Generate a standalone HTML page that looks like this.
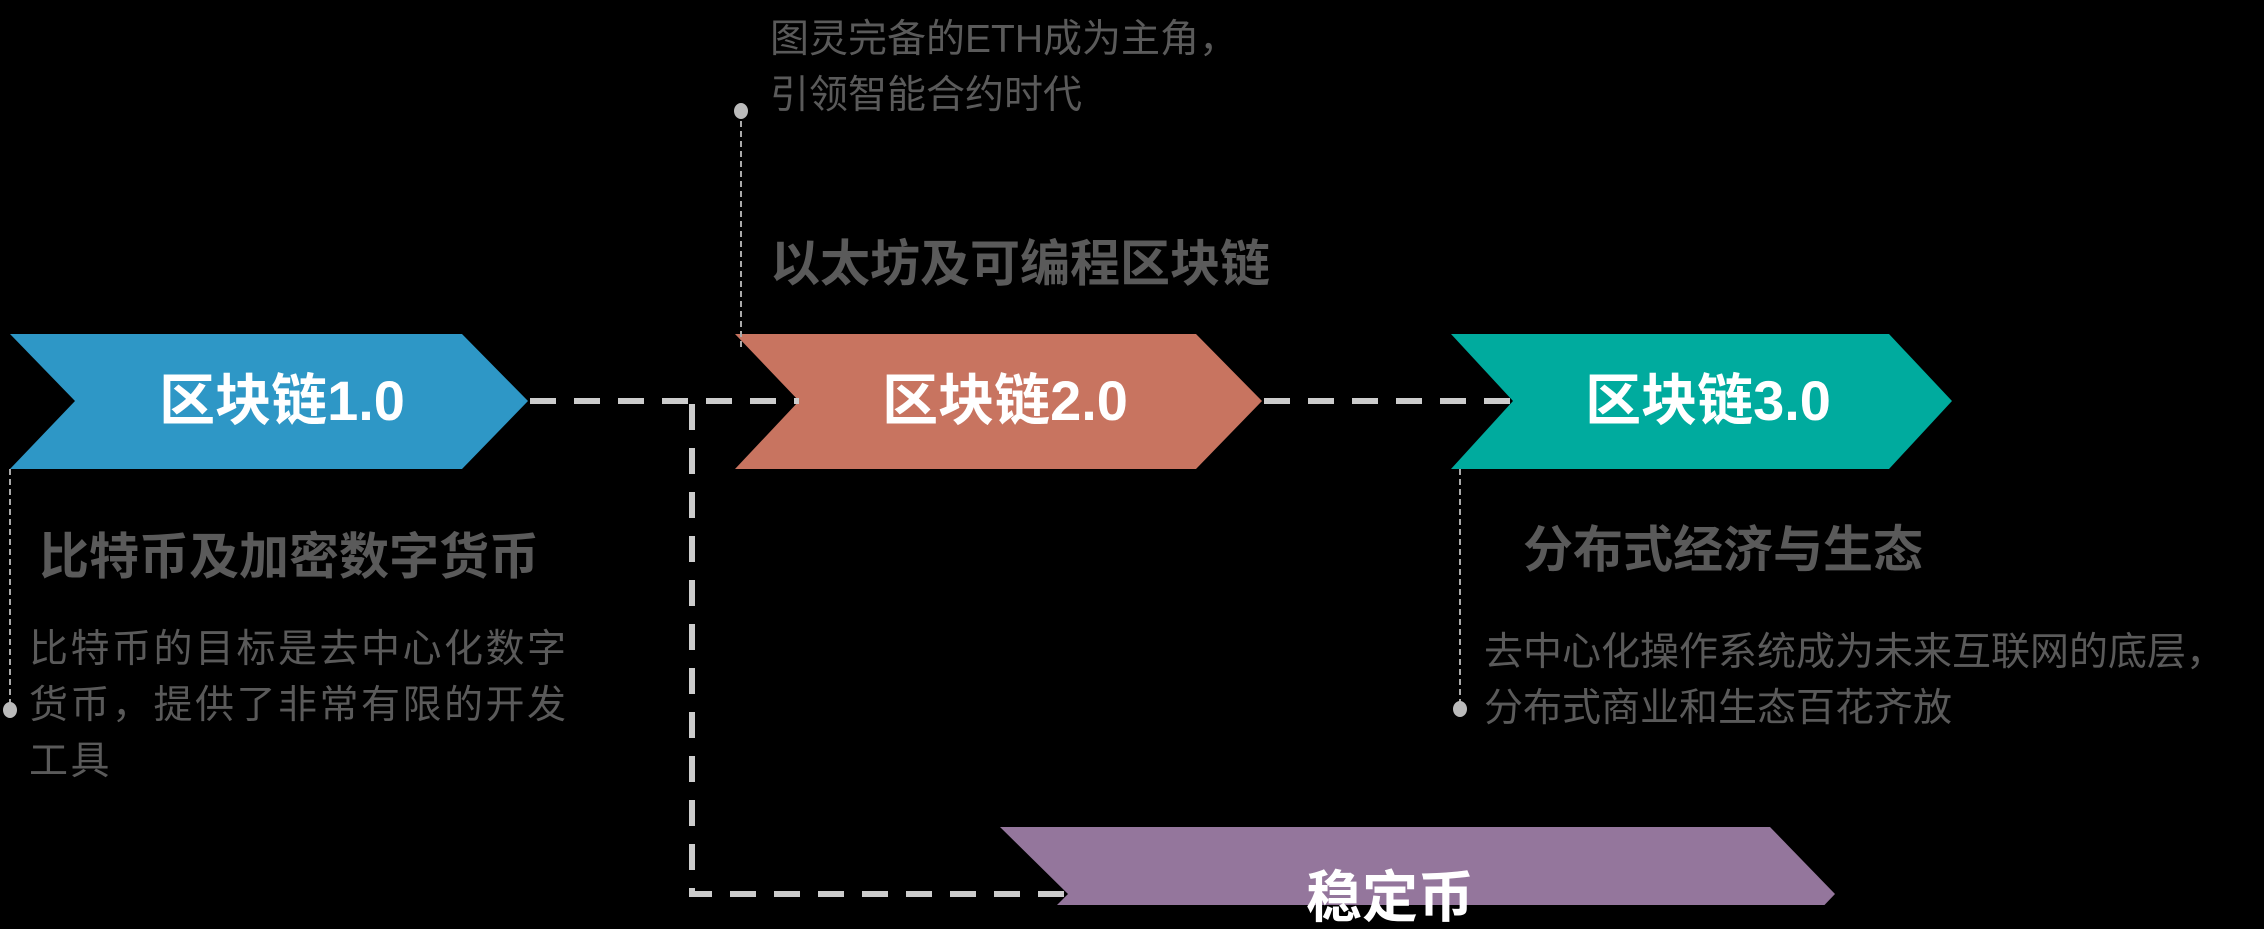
<!DOCTYPE html>
<html><head><meta charset="utf-8"><style>
html,body{margin:0;padding:0;background:#000;}
body{width:2264px;height:905px;position:relative;overflow:hidden;font-family:"Liberation Sans","Noto Sans CJK SC",sans-serif;}
.t{position:absolute;white-space:nowrap;color:#5a5a5a;}
.h{font-weight:bold;font-size:50px;line-height:60px;}
.b{font-size:39px;line-height:56px;}
.w{position:absolute;color:#fff;font-weight:bold;font-size:56px;line-height:60px;text-align:center;width:400px;}
</style></head><body>
<svg width="2264" height="905" style="position:absolute;left:0;top:0">
<polygon points="10,334 462,334 528,401 462,469 10,469 75,401" fill="#2e97c6"/>
<polygon points="735,334 1196,334 1262,401 1196,469 735,469 799,401" fill="#c87460"/>
<polygon points="1451,334 1889,334 1952,401 1889,469 1451,469 1513,401" fill="#00ab9e"/>
<polygon points="1000,827 1770,827 1835,894 1770,962 1000,962 1068,894" fill="#94769c"/>
<g stroke="#cccccc" stroke-width="6" fill="none" stroke-dasharray="26,18">
<line x1="530" y1="401" x2="799" y2="401"/>
<line x1="1264" y1="401" x2="1513" y2="401"/>
<polyline points="692,404 692,894 1068,894"/>
</g>
<g stroke="#aaaaaa" stroke-width="2" fill="none" stroke-dasharray="6,4">
<line x1="10" y1="469" x2="10" y2="710"/>
<line x1="741" y1="111" x2="741" y2="350"/>
<line x1="1460" y1="469" x2="1460" y2="709"/>
</g>
<g fill="#bbbbbb">
<ellipse cx="10" cy="710" rx="7" ry="8"/>
<ellipse cx="741" cy="111" rx="7" ry="8"/>
<ellipse cx="1460" cy="709" rx="7" ry="8"/>
</g>
</svg>
<div class="w" style="left:82px;top:371px">区块链1.0</div>
<div class="w" style="left:805px;top:371px">区块链2.0</div>
<div class="w" style="left:1508px;top:371px">区块链3.0</div>
<div class="w" style="left:1190px;top:868px">稳定币</div>
<div class="t h" style="left:39px;top:527px">比特币及加密数字货币</div>
<div class="t b" style="left:29px;top:622px;letter-spacing:2.5px">比特币的目标是去中心化数字<br>货币，提供了非常有限的开发<br>工具</div>
<div class="t b" style="left:770px;top:12px">图灵完备的ETH成为主角，<br>引领智能合约时代</div>
<div class="t h" style="left:770px;top:234px">以太坊及可编程区块链</div>
<div class="t h" style="left:1523px;top:520px">分布式经济与生态</div>
<div class="t b" style="left:1484px;top:625px">去中心化操作系统成为未来互联网的底层，<br>分布式商业和生态百花齐放</div>
</body></html>
